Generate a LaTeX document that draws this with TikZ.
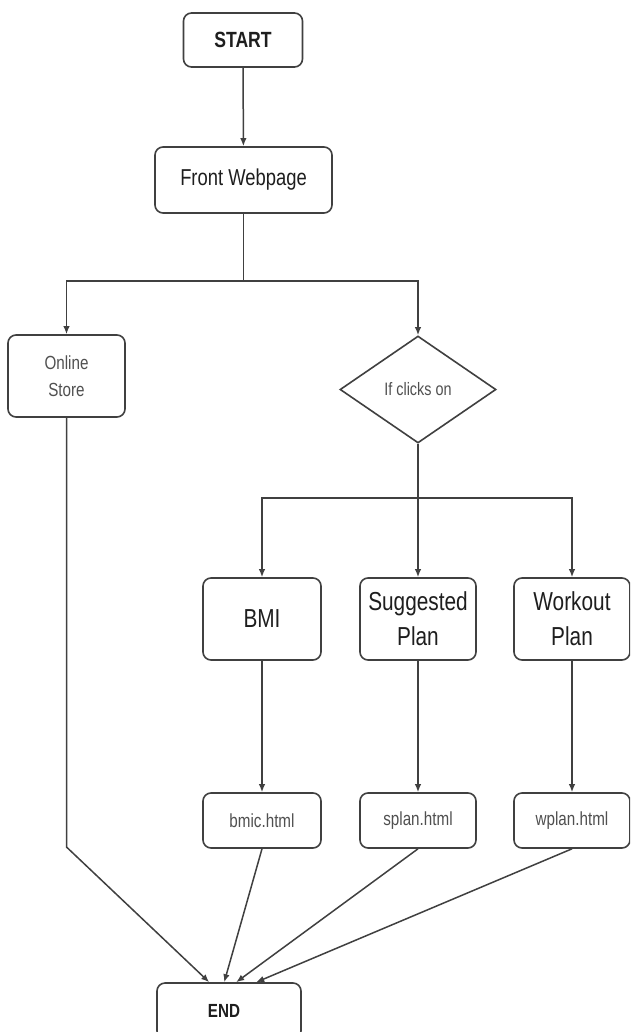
\documentclass[tikz,border=0pt]{standalone}
\usepackage{fontspec}
\setmainfont{Liberation Sans}[FakeStretch=0.8]
\usetikzlibrary{shapes.geometric,arrows.meta}
\definecolor{linec}{HTML}{404040}
\definecolor{darktxt}{HTML}{1E1E1E}
\definecolor{greytxt}{HTML}{505050}
\tikzset{
  box/.style={draw=linec, line width=1.6pt, rounded corners=8pt, inner sep=0pt, align=center, text=darktxt},
  decision/.style={draw=linec, line width=1.6pt, diamond, inner sep=0pt, align=center, text=greytxt},
  conn/.style={draw=linec, line width=1.5pt},
  arr/.style={conn, -{Latex[length=8pt,width=6.5pt]}},
}
\begin{document}
\begin{tikzpicture}[x=1pt,y=-1pt]
\useasboundingbox (0,0) rectangle (630,1032);
\clip (0,0) rectangle (630,1032);
\fill[white] (0,0) rectangle (630,1032);

\node[box, minimum width=119pt, minimum height=54pt, font=\bfseries\fontsize{22}{26}\selectfont] (start) at (243,40) {START};
\node[box, minimum width=177pt, minimum height=66pt, font=\fontsize{23}{27}\selectfont] (front) at (243.5,180) {Front Webpage};
\node[box, minimum width=117pt, minimum height=82pt, text=greytxt, font=\fontsize{19}{27}\selectfont] (online) at (66.5,376) {Online\\Store};
\node[decision, minimum width=156pt, minimum height=107pt, font=\fontsize{18}{22}\selectfont] (dec) at (418,389.5) {If clicks on};

\node[box, minimum width=118pt, minimum height=82pt, font=\fontsize{26}{35}\selectfont] (bmi) at (262,619) {BMI};
\node[box, minimum width=116pt, minimum height=82pt, font=\fontsize{26}{35}\selectfont] (sugg) at (418,619) {Suggested\\Plan};
\node[box, minimum width=116pt, minimum height=82pt, font=\fontsize{26}{35}\selectfont] (work) at (572,619) {Workout\\Plan};

\node[box, minimum width=118pt, minimum height=55pt, text=greytxt, font=\fontsize{19}{23}\selectfont] (bmic) at (262,820.5) {bmic.html};
\node[box, minimum width=116pt, minimum height=55pt, text=greytxt, font=\fontsize{19}{23}\selectfont] (splan) at (418,820.5) {splan.html};
\node[box, minimum width=116pt, minimum height=55pt, text=greytxt, font=\fontsize{19}{23}\selectfont] (wplan) at (572,820.5) {wplan.html};

\node[box, minimum width=144pt, minimum height=56pt, font=\bfseries\fontsize{19}{23}\selectfont] (end) at (229,1011) {END\hspace*{10pt}};

\coordinate (j1) at (243.5,281);
\coordinate (j2) at (418,498);
\coordinate (bend) at (66.5,847);
\coordinate (e1) at ([xshift=53pt]end.north west);
\coordinate (e2) at ([xshift=68pt]end.north west);
\coordinate (e3) at ([xshift=80pt]end.north west);
\coordinate (e4) at ([xshift=100pt]end.north west);

\draw[arr] (start) -- (front);
\draw[conn] (front) -- (j1);
\draw[arr] (j1) -| (online.north);
\draw[arr] (j1) -| (dec.north);
\draw[conn] (dec.south) -- (j2);
\draw[arr] (j2) -| (bmi.north);
\draw[arr] (j2) -- (sugg.north);
\draw[arr] (j2) -| (work.north);
\draw[arr] (bmi) -- (bmic);
\draw[arr] (sugg) -- (splan);
\draw[arr] (work) -- (wplan);
\draw[arr] (online.south) -- (bend) -- (e1);
\draw[arr] (bmic.south) -- (e2);
\draw[arr] (splan.south) -- (e3);
\draw[arr] (wplan.south) -- (e4);
\end{tikzpicture}
\end{document}
